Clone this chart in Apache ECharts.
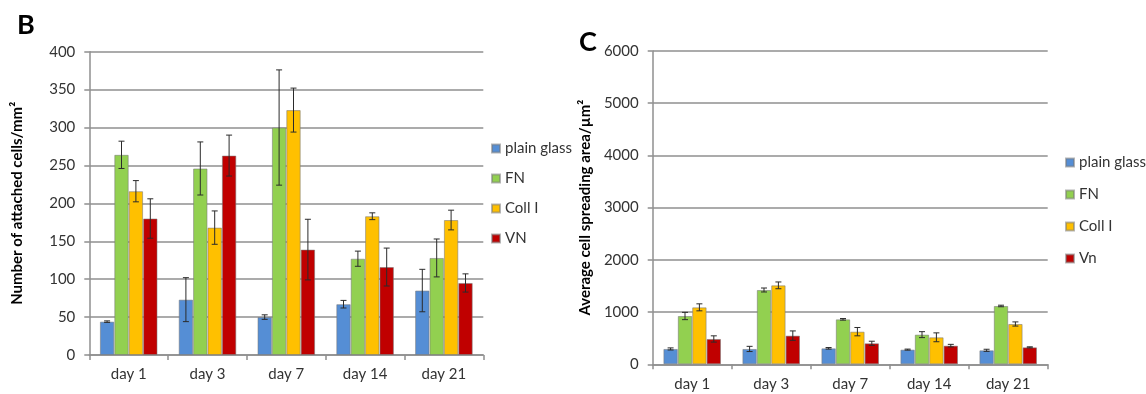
<!DOCTYPE html>
<html>
<head>
<meta charset="utf-8">
<script src="https://cdn.jsdelivr.net/npm/echarts@6/dist/echarts.min.js"></script>
<style>
html,body{margin:0;padding:0;background:#fff;}
#c{width:1146px;height:394px;}
</style>
</head>
<body>
<div id="c"></div>
<script>
// ---- data ----
const categories = ['day 1', 'day 3', 'day 7', 'day 14', 'day 21'];
const seriesNamesB = ['plain glass', 'FN', 'Coll I', 'VN'];
const seriesNamesC = ['plain glass', 'FN', 'Coll I', 'Vn'];
const colors = ['#558ED5', '#92D050', '#FFC000', '#C00000'];

// Panel B: number of attached cells/mm²
const bPlain = [44, 73, 50, 67, 85];
const bFN     = [264, 246, 300, 127, 128];
const bColl   = [216, 168, 323, 183, 178];
const bVN     = [180, 263, 139, 116, 95];
const bPlainErr = [1, 29, 3, 5, 28];
const bFNErr    = [18, 35, 76, 10, 25];
const bCollErr  = [14, 22, 29, 4.5, 13];
const bVNErr    = [26, 27, 40, 25, 12];

// Panel C: average cell spreading area/µm²
const cPlain = [294, 294, 306, 281, 268];
const cFN     = [925, 1423, 861, 568, 1117];
const cColl   = [1091, 1512, 625, 517, 772];
const cVn     = [485, 549, 402, 357, 325];
const cPlainErr = [20, 50, 15, 10, 20];
const cFNErr    = [70, 38, 15, 57, 15];
const cCollErr  = [67, 65, 80, 85, 40];
const cVnErr    = [60, 90, 40, 25, 10];

const bValues = [bPlain, bFN, bColl, bVN];
const bErrors = [bPlainErr, bFNErr, bCollErr, bVNErr];
const cValues = [cPlain, cFN, cColl, cVn];
const cErrors = [cPlainErr, cFNErr, cCollErr, cVnErr];

// ---- chart ----
const FONT = 'Lato, "Liberation Sans", sans-serif';
const BAR_W = 14.4;
const GRID_COLOR = '#8f8f8f';

function makeBars(names, values, errors, gridIdx) {
  const out = [];
  names.forEach((n, i) => {
    out.push({
      name: n, type: 'bar', xAxisIndex: gridIdx, yAxisIndex: gridIdx,
      data: values[i], barWidth: BAR_W, barGap: '0%',
      itemStyle: { color: colors[i], borderColor: 'rgba(120,120,120,0.55)', borderWidth: 1 },
      z: 2
    });
  });
  names.forEach((n, i) => {
    const off = (i - 1.5) * BAR_W;
    out.push({
      name: n, type: 'custom', xAxisIndex: gridIdx, yAxisIndex: gridIdx,
      data: values[i].map((v, k) => [k, v, errors[i][k]]),
      z: 5, silent: true,
      renderItem: function (params, api) {
        const idx = api.value(0), v = api.value(1), e = api.value(2);
        const top = api.coord([idx, v + e]);
        const bot = api.coord([idx, v - e]);
        const x = top[0] + off;
        const cap = 3;
        const style = { stroke: '#2b2b2b', lineWidth: 1, fill: null };
        return {
          type: 'group',
          children: [
            { type: 'line', shape: { x1: x, y1: top[1], x2: x, y2: bot[1] }, style: style },
            { type: 'line', shape: { x1: x - cap, y1: top[1], x2: x + cap, y2: top[1] }, style: style },
            { type: 'line', shape: { x1: x - cap, y1: bot[1], x2: x + cap, y2: bot[1] }, style: style }
          ]
        };
      }
    });
  });
  return out;
}

function xAxis(gridIdx) {
  return {
    type: 'category', gridIndex: gridIdx, data: categories,
    axisLine: { lineStyle: { color: GRID_COLOR, width: 1.5 } },
    axisTick: { show: true, length: 5, lineStyle: { color: GRID_COLOR, width: 1.5 } },
    axisLabel: { color: '#333', fontFamily: FONT, fontSize: 15, margin: 12 }
  };
}
function yAxis(gridIdx, max, interval, name, gap) {
  return {
    type: 'value', gridIndex: gridIdx, min: 0, max: max, interval: interval,
    name: name, nameLocation: 'middle', nameGap: gap, nameRotate: 90,
    nameTextStyle: { color: '#000', fontFamily: FONT, fontSize: 15, fontWeight: 'bold' },
    axisLine: { show: true, lineStyle: { color: GRID_COLOR, width: 1.5 } },
    axisTick: { show: true, length: 5, lineStyle: { color: GRID_COLOR, width: 1.5 } },
    axisLabel: { color: '#333', fontFamily: FONT, fontSize: 15, margin: 14, formatter: v => String(v) },
    splitLine: { show: true, lineStyle: { color: GRID_COLOR, width: 1.5 } }
  };
}

const chart = echarts.init(document.getElementById('c'), null, { renderer: 'canvas' });
chart.setOption({
  animation: false,
  backgroundColor: '#fff',
  title: [
    { text: 'B', left: 12, top: 7, textStyle: { fontFamily: FONT, fontSize: 27, fontWeight: 'bold', color: '#000' } },
    { text: 'C', left: 574, top: 24, textStyle: { fontFamily: FONT, fontSize: 27, fontWeight: 'bold', color: '#000' } }
  ],
  grid: [
    { left: 89.3, top: 51.7, width: 394, height: 303.3 },
    { left: 652.7, top: 51, width: 395, height: 313.3 }
  ],
  legend: [
    { data: seriesNamesB, orient: 'vertical', left: 486, top: 135, itemWidth: 8, itemHeight: 8, icon: 'rect',
      itemGap: 13, textStyle: { fontFamily: FONT, fontSize: 15, color: '#333', lineHeight: 17 } },
    { data: seriesNamesC, orient: 'vertical', left: 1060, top: 149, itemWidth: 8, itemHeight: 8, icon: 'rect',
      itemGap: 15, textStyle: { fontFamily: FONT, fontSize: 15, color: '#333', lineHeight: 17 } }
  ],
  xAxis: [xAxis(0), xAxis(1)],
  yAxis: [
    yAxis(0, 400, 50, 'Number of attached cells/mm²', 65),
    yAxis(1, 6000, 1000, 'Average cell spreading area/µm²', 60)
  ],
  series: [].concat(makeBars(seriesNamesB, bValues, bErrors, 0), makeBars(seriesNamesC, cValues, cErrors, 1))
});
</script>
</body>
</html>
